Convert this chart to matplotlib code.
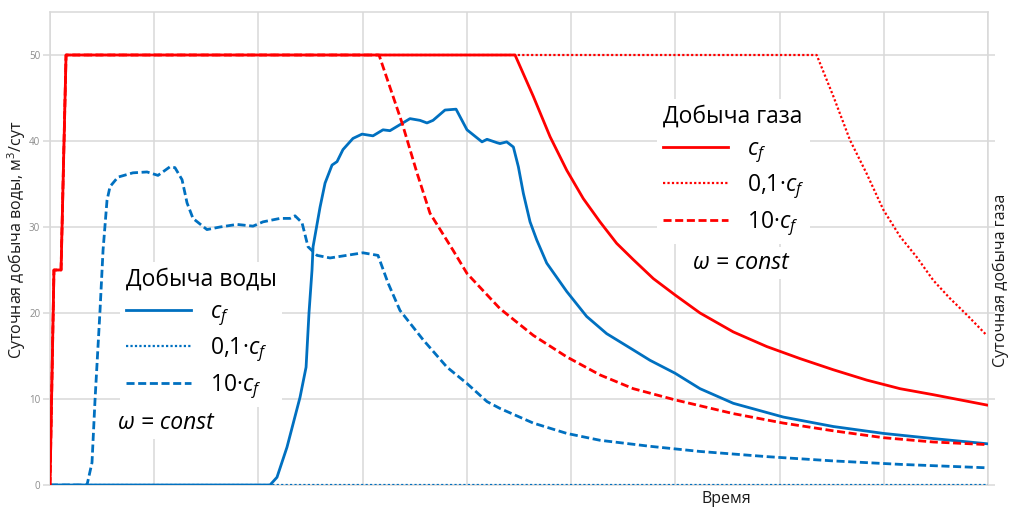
import matplotlib
matplotlib.use("Agg")
import matplotlib.pyplot as plt
from matplotlib.lines import Line2D

plt.rcParams['font.family'] = ['Open Sans', 'DejaVu Sans']
plt.rcParams['mathtext.fontset'] = 'custom'
plt.rcParams['mathtext.rm'] = 'Open Sans'
plt.rcParams['mathtext.it'] = 'Open Sans:italic'

# ---------------- data (time in arbitrary units, rates in m3/day) ----------------
# gas production, c_f
gas_cf_t = [0, 0.038, 0.106, 0.154, 4.462, 4.637, 4.798, 4.958, 5.117, 5.277, 5.437, 5.597,
            5.789, 5.997, 6.237, 6.556, 6.877, 7.196, 7.516, 7.836, 8.156, 8.475, 8.988]
gas_cf_q = [0, 25, 25, 50, 50, 45.2, 40.5, 36.6, 33.3, 30.6, 28.1, 26.2,
            24.0, 22.1, 20.0, 17.8, 16.1, 14.7, 13.4, 12.2, 11.2, 10.5, 9.3]
# gas production, 0.1*c_f
gas_01_t = [0, 0.038, 0.106, 0.154, 7.356, 7.516, 7.676, 7.836, 7.996, 8.156, 8.316,
            8.475, 8.635, 8.796, 8.988]
gas_01_q = [0, 25, 25, 50, 50, 45.2, 40.1, 36.2, 32.0, 28.9, 26.5,
            23.8, 21.7, 19.8, 17.4]
# gas production, 10*c_f
gas_10_t = [0, 0.038, 0.106, 0.154, 3.157, 3.378, 3.521, 3.646, 3.867, 4.001, 4.318,
            4.637, 4.958, 5.277, 5.597, 5.997, 6.556, 7.036, 7.516, 7.996, 8.475, 8.988]
gas_10_q = [0, 25, 25, 50, 50, 42.1, 36.3, 31.6, 27.3, 24.6, 20.5,
            17.4, 14.9, 12.8, 11.2, 9.9, 8.3, 7.2, 6.3, 5.5, 5.0, 4.7]

# water production, c_f
wat_cf_t = [0, 2.111, 2.178, 2.274, 2.399, 2.457, 2.485, 2.514, 2.524, 2.591, 2.639, 2.706,
            2.754, 2.811, 2.907, 2.994, 3.099, 3.195, 3.262, 3.454, 3.550, 3.617, 3.675,
            3.790, 3.896, 4.001, 4.145, 4.193, 4.289, 4.318, 4.382, 4.446, 4.494, 4.542,
            4.606, 4.670, 4.766, 4.958, 5.149, 5.341, 5.597, 5.757, 5.997, 6.237, 6.556,
            7.036, 7.516, 7.996, 8.475, 8.988]
wat_cf_q = [0, 0, 0.9, 4.4, 10.2, 13.7, 20.0, 25.0, 27.7, 32.3, 35.1, 37.2,
            37.6, 39.0, 40.3, 40.8, 40.6, 41.3, 41.2, 42.6, 42.4, 42.1, 42.4,
            43.6, 43.7, 41.3, 39.9, 40.2, 39.8, 39.7, 39.9, 39.3, 37.0, 33.9,
            30.6, 28.5, 25.8, 22.5, 19.6, 17.6, 15.7, 14.5, 13.0, 11.2, 9.5,
            7.9, 6.8, 6.0, 5.4, 4.8]
# water production, 0.1*c_f
wat_01_t = [0, 9.0]
wat_01_q = [0, 0]
# water production, 10*c_f
wat_10_t = [0, 0.355, 0.403, 0.432, 0.480, 0.509, 0.547, 0.576, 0.652, 0.796, 0.931, 1.036,
            1.151, 1.199, 1.267, 1.315, 1.372, 1.506, 1.631, 1.794, 1.948, 2.044, 2.207,
            2.303, 2.351, 2.418, 2.476, 2.562, 2.687, 3.003, 3.147, 3.243, 3.358, 3.579,
            3.809, 4.001, 4.193, 4.318, 4.637, 4.958, 5.277, 5.757, 6.237, 6.877, 7.516,
            8.156, 8.988]
wat_10_q = [0, 0, 2.6, 9.9, 20.3, 27.3, 33.1, 34.7, 35.8, 36.3, 36.4, 36.0,
            37.0, 36.9, 35.5, 32.8, 31.0, 29.7, 30.0, 30.3, 30.1, 30.6, 31.0,
            31.0, 31.3, 30.5, 27.7, 26.7, 26.4, 27.0, 26.7, 23.5, 20.3, 16.9,
            13.7, 11.8, 9.7, 8.9, 7.2, 6.0, 5.2, 4.5, 3.9, 3.3, 2.8,
            2.4, 2.0]

y_ticks = [0, 10, 20, 30, 40, 50]
case_labels = ['$c_f$', '0,1·$c_f$', '10·$c_f$']

# ---------------- styling ----------------
BLUE = '#0070C0'
RED = '#FF0000'
GRID = '#D9D9D9'
LW = 2.0
DASH = (0, (2.9, 1.3))
DOT = (0, (1.0, 1.0))

W, H = 1011, 507
fig = plt.figure(figsize=(W / 100, H / 100), dpi=100)
ax = fig.add_axes([50 / W, 22 / H, 938 / W, 473 / H])


def fx(px):
    return px / W


def fy(py):
    return 1 - py / H


ax.set_xlim(0, 9)
ax.set_ylim(0, 55)
ax.set_xticks(range(0, 10))
ax.set_yticks(y_ticks)
ax.tick_params(axis='x', length=0, labelbottom=False)
ax.tick_params(axis='y', which='both', length=5, width=1.1, color=GRID,
               labelsize=7, labelcolor='#8C8C8C', pad=2, left=True, right=True)
ax.grid(True, color=GRID, lw=1.1, zorder=0)
ax.set_axisbelow(True)
for s in ax.spines.values():
    s.set_color(GRID)
    s.set_linewidth(1.1)

# water curves
ax.plot(wat_01_t, wat_01_q, color=BLUE, lw=1.6, ls=DOT, zorder=3)
ax.plot(wat_10_t, wat_10_q, color=BLUE, lw=LW, ls=DASH, zorder=3)
ax.plot(wat_cf_t, wat_cf_q, color=BLUE, lw=LW, zorder=3)
# gas curves
ax.plot(gas_01_t, gas_01_q, color=RED, lw=1.6, ls=DOT, zorder=4)
ax.plot(gas_10_t, gas_10_q, color=RED, lw=LW, ls=DASH, zorder=4)
ax.plot(gas_cf_t, gas_cf_q, color=RED, lw=LW, zorder=4)

# axis titles
fig.text(fx(17), fy(240), 'Суточная добыча воды, м$^3$/сут', rotation=90,
         ha='center', va='center', fontsize=11.5, color='#1A1A1A')
fig.text(fx(1001), fy(280), 'Суточная добыча газа', rotation=90,
         ha='center', va='center', fontsize=11.5, color='#1A1A1A')
fig.text(fx(726), fy(499), 'Время', ha='center', va='center',
         fontsize=11.5, color='#1A1A1A')

FS = 16.5


def make_legend(color, title, anchor):
    handles = [Line2D([], [], color=color, lw=LW),
               Line2D([], [], color=color, lw=1.6, ls=DOT),
               Line2D([], [], color=color, lw=LW, ls=DASH)]
    leg = ax.legend(handles, case_labels, title=title, alignment='left',
                    loc='upper left', bbox_to_anchor=anchor,
                    bbox_transform=fig.transFigure, fontsize=FS,
                    title_fontsize=FS, frameon=True, facecolor='white',
                    edgecolor='none', framealpha=1, fancybox=False,
                    handlelength=2.84, handletextpad=0.83, labelspacing=0.35,
                    borderpad=0.25, borderaxespad=0)
    leg.set_zorder(6)
    return leg


leg_w = make_legend(BLUE, 'Добыча воды', (fx(120), fy(262)))
ax.add_artist(leg_w)
leg_g = make_legend(RED, 'Добыча газа', (fx(657), fy(99)))

ax.text(fx(118), fy(423), 'ω = const', transform=fig.transFigure, style='italic',
        fontsize=FS, ha='left', va='center', zorder=6,
        bbox=dict(fc='white', ec='none', pad=3))
ax.text(fx(693), fy(263), 'ω = const', transform=fig.transFigure, style='italic',
        fontsize=FS, ha='left', va='center', zorder=6,
        bbox=dict(fc='white', ec='none', pad=3))

fig.savefig('out.png', dpi=100)
